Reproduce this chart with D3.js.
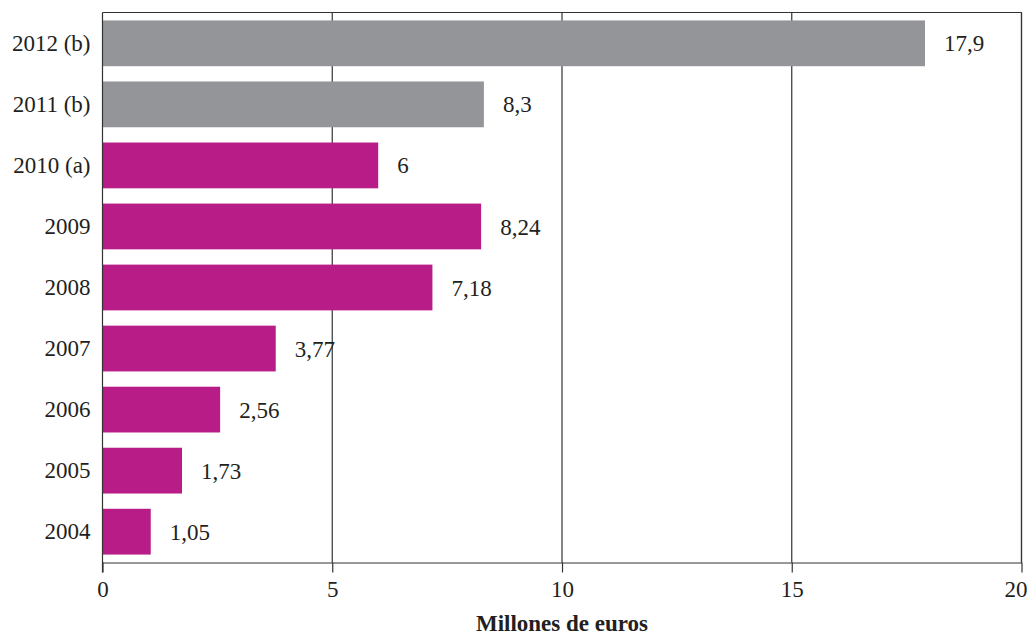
<!DOCTYPE html>
<html>
<head>
<meta charset="utf-8">
<script src="https://cdn.jsdelivr.net/npm/d3@7"></script>
<style>
  body { margin: 0; background: #fff; }
  svg text { font-family: "Liberation Serif", "DejaVu Serif", serif; fill: #231f20; }
</style>
</head>
<body>
<svg width="1029" height="635"></svg>
<script>
// data
const years = ['2012 (b)', '2011 (b)', '2010 (a)', '2009', '2008', '2007', '2006', '2005', '2004'];
const values = [17.9, 8.3, 6, 8.24, 7.18, 3.77, 2.56, 1.73, 1.05];
const valueLabels = ['17,9', '8,3', '6', '8,24', '7,18', '3,77', '2,56', '1,73', '1,05'];
const estimated = [true, true, false, false, false, false, false, false, false];
const xTicks = [0, 5, 10, 15, 20];

const svg = d3.select('svg');
const margin = { top: 12.5, right: 7.5, bottom: 72.5, left: 102.5 };
const width = 1029, height = 635;
const lineColor = '#333';
const fontSize = '23px';

const x = d3.scaleLinear()
    .domain([0, 20])
    .range([margin.left, width - margin.right]);

const y = d3.scaleBand()
    .domain(years)
    .range([margin.top, height - margin.bottom])
    .paddingInner(0.25)
    .paddingOuter(0.13);

// vertical gridlines
svg.append('g')
    .selectAll('line')
    .data(xTicks.slice(1))
    .enter().append('line')
    .attr('x1', d => x(d)).attr('x2', d => x(d))
    .attr('y1', margin.top).attr('y2', height - margin.bottom)
    .attr('stroke', lineColor)
    .attr('stroke-width', 1.2);

// top border
svg.append('line')
    .attr('x1', margin.left).attr('x2', width - margin.right)
    .attr('y1', margin.top).attr('y2', margin.top)
    .attr('stroke', lineColor).attr('stroke-width', 1.2);

// bars
svg.selectAll('.bar')
    .data(years)
    .enter().append('rect')
    .attr('class', 'bar')
    .attr('x', x(0))
    .attr('y', d => y(d))
    .attr('width', (d, i) => x(values[i]) - x(0))
    .attr('height', y.bandwidth())
    .attr('fill', (d, i) => estimated[i] ? '#939598' : '#b71c87');

// value labels
svg.selectAll('.val')
    .data(years)
    .enter().append('text')
    .attr('class', 'val')
    .attr('x', (d, i) => x(values[i]) + 19)
    .attr('y', d => y(d) + y.bandwidth() / 2)
    .attr('dy', '0.35em')
    .style('font-size', fontSize)
    .text((d, i) => valueLabels[i]);

// y axis
const yAxis = svg.append('g')
    .attr('transform', `translate(${margin.left},0)`)
    .call(d3.axisLeft(y).tickSize(0).tickPadding(12));
yAxis.select('.domain').attr('stroke', lineColor).attr('stroke-width', 1.2)
    .attr('d', `M0,${margin.top}V${height - margin.bottom + 10}`);
yAxis.selectAll('text').style('font-size', fontSize).attr('fill', '#231f20');

// x axis
const xAxis = svg.append('g')
    .attr('transform', `translate(0,${height - margin.bottom})`)
    .call(d3.axisBottom(x).tickValues(xTicks).tickSize(10).tickPadding(8).tickSizeOuter(0));
xAxis.select('.domain').attr('stroke', lineColor).attr('stroke-width', 1.2);
xAxis.selectAll('.tick line').attr('stroke', lineColor).attr('stroke-width', 1.2);
xAxis.selectAll('text').style('font-size', fontSize).attr('fill', '#231f20')
    .attr('dx', d => d === 20 ? -6 : 0);

// right border
svg.append('line')
    .attr('x1', x(20)).attr('x2', x(20))
    .attr('y1', margin.top).attr('y2', height - margin.bottom)
    .attr('stroke', lineColor).attr('stroke-width', 1.2);

// axis title
svg.append('text')
    .attr('x', (x(0) + x(20)) / 2)
    .attr('y', 631)
    .attr('text-anchor', 'middle')
    .style('font-size', fontSize)
    .style('font-weight', 'bold')
    .text('Millones de euros');
</script>
</body>
</html>
